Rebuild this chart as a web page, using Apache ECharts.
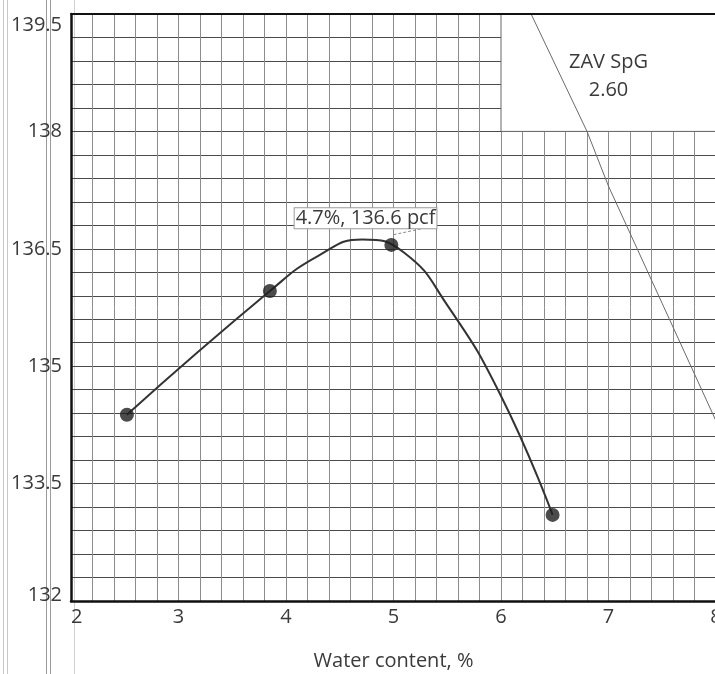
<!DOCTYPE html>
<html>
<head>
<meta charset="utf-8">
<script src="https://cdn.jsdelivr.net/npm/echarts@6/dist/echarts.min.js"></script>
<style>
html,body{margin:0;padding:0;background:#fff;}
#c{width:715px;height:674px;}
</style>
</head>
<body>
<div id="c"></div>
<script>
// Measured points (water content %, dry density pcf)
const pointX = [2.52, 3.85, 4.98, 6.48];
const pointY = [134.38, 135.96, 136.55, 133.1];
// Fitted compaction curve
const curveX = [2.52, 3.85, 4.3, 4.71, 5.1, 5.5, 6.0, 6.48];
const curveY = [134.38, 135.96, 136.41, 136.62, 136.45, 135.78, 134.62, 133.1];
// Zero-air-voids line (SpG 2.60)
const zavX = [6.28, 6.8, 7.0, 7.5, 8.0];
const zavY = [139.5, 138.0, 137.3, 135.8, 134.3];
// Axis ticks
const xTicks = [2, 3, 4, 5, 6, 7, 8];
const yTicks = [132, 133.5, 135, 136.5, 138, 139.5];
const peakLabel = '4.7%, 136.6 pcf';
const zavLabel = 'ZAV SpG\n2.60';
const xName = 'Water content, %';

const pts = pointX.map((x, i) => [x, pointY[i]]);
const curve = curveX.map((x, i) => [x, curveY[i]]);
const zav = zavX.map((x, i) => [x, zavY[i]]);

const FONT = '"Open Sans", sans-serif';
const TXT = '#3a3a3a';

const chart = echarts.init(document.getElementById('c'));
chart.setOption({
  animation: false,
  backgroundColor: '#fff',
  textStyle: { fontFamily: FONT },
  grid: { left: 71, top: 14, width: 645, height: 587, containLabel: false, outerBoundsMode: 'none' },
  graphic: [
    { type: 'line', z: -1, shape: { x1: 3.5, y1: 0, x2: 3.5, y2: 674 }, style: { stroke: '#c8c8c8', lineWidth: 1 } },
    { type: 'line', z: -1, shape: { x1: 7.5, y1: 0, x2: 7.5, y2: 674 }, style: { stroke: '#c8c8c8', lineWidth: 1 } },
    { type: 'line', z: -1, shape: { x1: 46.5, y1: 0, x2: 46.5, y2: 674 }, style: { stroke: '#9a9a9a', lineWidth: 1 } },
    { type: 'line', z: -1, shape: { x1: 50.5, y1: 0, x2: 50.5, y2: 674 }, style: { stroke: '#9a9a9a', lineWidth: 1 } },
    { type: 'line', z: -1, shape: { x1: 74.5, y1: 0, x2: 74.5, y2: 674 }, style: { stroke: '#d0d0d0', lineWidth: 1 } }
  ],
  xAxis: [{
    type: 'value', min: 2, max: 8, interval: 0.2,
    axisLine: { show: true, onZero: false, lineStyle: { color: '#111', width: 2.5 } },
    axisTick: { show: false },
    splitLine: { show: true, lineStyle: { color: '#8c8c8c', width: 1 } },
    axisLabel: {
      show: true, margin: 6, color: TXT, fontSize: 20, fontFamily: FONT,
      alignMinLabel: 'left', alignMaxLabel: 'center',
      showMinLabel: true, showMaxLabel: true,
      formatter: function (v) {
        const r = Math.round(v);
        return (Math.abs(v - r) < 1e-6 && xTicks.indexOf(r) >= 0) ? String(r) : '';
      }
    },
    name: xName, nameLocation: 'middle', nameGap: 50,
    nameTextStyle: { color: TXT, fontSize: 20, fontFamily: FONT }
  }, {
    type: 'value', min: 2, max: 8, position: 'top', z: 10,
    axisLine: { show: true, onZero: false, lineStyle: { color: '#111', width: 2 } },
    axisTick: { show: false }, axisLabel: { show: false }, splitLine: { show: false }
  }],
  yAxis: [{
    type: 'value', min: 132, max: 139.5, interval: 0.3,
    axisLine: { show: true, onZero: false, lineStyle: { color: '#111', width: 2.5 } },
    axisTick: { show: false },
    splitLine: { show: true, lineStyle: { color: '#4a4a4a', width: 1 } },
    axisLabel: {
      show: true, margin: 9, color: TXT, fontSize: 20, fontFamily: FONT,
      showMinLabel: true, showMaxLabel: true,
      formatter: function (v) {
        for (let i = 0; i < yTicks.length; i++) {
          if (Math.abs(v - yTicks[i]) < 1e-6) {
            if (i === yTicks.length - 1) return '{t|' + yTicks[i] + '}';
            if (i === 0) return '{b|' + yTicks[i] + '}';
            return String(yTicks[i]);
          }
        }
        return '';
      },
      rich: {
        t: { fontSize: 20, fontFamily: FONT, color: TXT, padding: [22, 0, 0, 0] },
        b: { fontSize: 20, fontFamily: FONT, color: TXT, padding: [0, 0, 12, 0] }
      }
    }
  }],
  series: [
    {
      type: 'line', data: [], z: 1, silent: true,
      markArea: {
        silent: true,
        itemStyle: { color: '#fff', borderColor: '#666', borderWidth: 1 },
        data: [[{ coord: [6, 139.5] }, { coord: [8, 138] }]]
      }
    },
    {
      type: 'line', data: zav, z: 3, symbol: 'none', silent: true,
      lineStyle: { color: '#6a6a6a', width: 1 },
      markPoint: {
        symbol: 'circle', symbolSize: 0, silent: true,
        label: { show: true, position: 'inside', formatter: zavLabel, color: TXT, fontSize: 20, fontFamily: FONT, lineHeight: 28, align: 'center' },
        data: [{ coord: [7.0, 138.7], value: 0 }]
      }
    },
    {
      type: 'line', data: curve, z: 4, symbol: 'none', smooth: 0.5, silent: true,
      lineStyle: { color: '#333', width: 2 },
      markLine: {
        silent: true, symbol: 'none',
        lineStyle: { color: '#888', width: 1, type: [3, 2] },
        label: { show: false },
        data: [[{ coord: [5.0, 136.68] }, { coord: [5.41, 136.8] }]]
      },
      markPoint: {
        symbol: 'circle', symbolSize: 0, silent: true,
        label: {
          show: true, position: 'inside', formatter: peakLabel, color: TXT, fontSize: 20, fontFamily: FONT,
          backgroundColor: '#fff', borderColor: '#9a9a9a', borderWidth: 1, padding: [0, 1, 0, 1], lineHeight: 20
        },
        data: [{ coord: [4.74, 136.89], value: 0 }]
      }
    },
    {
      type: 'scatter', data: pts, z: 5, symbol: 'circle', symbolSize: 14, silent: true,
      itemStyle: { color: '#1e1e1e' }
    }
  ]
});
</script>
</body>
</html>
